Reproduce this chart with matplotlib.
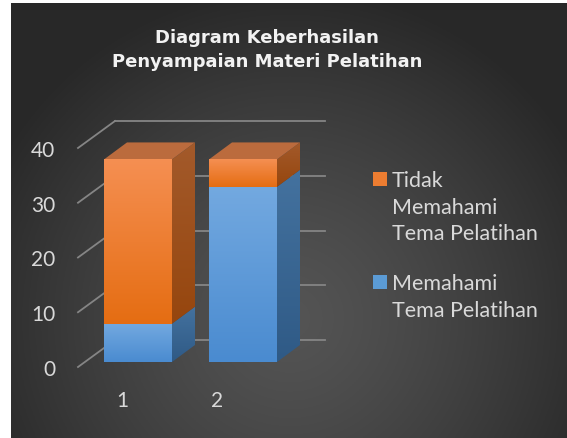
import numpy as np
import matplotlib.pyplot as plt
from matplotlib.patches import Polygon, Rectangle
from matplotlib.transforms import ScaledTranslation

# data
categories = [1, 2]
tick_labels = ["1", "2"]
memahami = [7, 32]
tidak_memahami = [30, 5]
label_tidak = "Tidak\nMemahami\nTema Pelatihan"
label_paham = "Memahami\nTema Pelatihan"
title = "Diagram Keberhasilan\nPenyampaian Materi Pelatihan"
yticks = [0, 10, 20, 30, 40]

W, H = 567, 439
fig = plt.figure(figsize=(W / 100, H / 100), dpi=100)
fig.patch.set_facecolor("white")

# background with radial gradient (pixel coords from top-left)
bx0, by0 = 11, 4
bg = fig.add_axes([bx0 / W, 0, (W - bx0) / W, (H - by0) / H])
xx, yy = np.meshgrid(np.linspace(bx0, W, 300), np.linspace(by0, H, 240))
r = np.sqrt(((xx - 290) / 330) ** 2 + ((yy - 320) / 330) ** 2)
r = np.clip(r, 0, 1)
c = 0.33 - 0.17 * r ** 1.3
bg.imshow(np.dstack([c, c, c]), extent=[0, 1, 0, 1], aspect="auto", origin="upper")
bg.axis("off")

# main axes, laid out in pixels
px_per_cat = 105.0
px_per_val = 5.475
x_ref, y_ref = 138.0, 363.0  # pixel of category 1 / value 0 on the bar plane
ax_l, ax_r, ax_t, ax_b = 62, 340, 100, 385
ax = fig.add_axes([ax_l / W, 1 - ax_b / H, (ax_r - ax_l) / W, (ax_b - ax_t) / H])
xlim = (1 + (ax_l - x_ref) / px_per_cat, 1 + (ax_r - x_ref) / px_per_cat)
ylim = ((y_ref - ax_b) / px_per_val, (y_ref - ax_t) / px_per_val)
ax.patch.set_alpha(0)
for s in ax.spines.values():
    s.set_visible(False)


def dxp(p):
    return p / px_per_cat


def dyp(p):
    return p / px_per_val


# walls: gridlines on back wall + floor-side diagonals
grid_col = "#858585"
back_x0, back_x1 = 1 + dxp(115 - x_ref), 1 + dxp(325 - x_ref)
fx = 1 + dxp(78 - x_ref)
for v in yticks:
    ax.plot([back_x0, back_x1], [v + dyp(22), v + dyp(22)], color=grid_col, lw=1.3, zorder=1)
    ax.plot([fx, back_x0], [v - dyp(5), v + dyp(22)], color=grid_col, lw=1.3, zorder=1)

# 3d bars
bw = 68 / px_per_cat
ddx, ddy = dxp(23), dyp(17)
front_cols = [("#4a8bd0", "#73a9e0"), ("#e56d12", "#f58f52")]
side_cols = [("#2f5a86", "#44729f"), ("#96460e", "#a35a2b")]
top_col = "#bb6b3d"

b1 = ax.bar(categories, memahami, width=bw, color="#5b9bd5", zorder=3, linewidth=0)
b2 = ax.bar(categories, tidak_memahami, bottom=memahami, width=bw, color="#ed7d31", zorder=3, linewidth=0)


def vgrad(lo, hi):
    g = np.linspace(0, 1, 100)[:, None, None]
    c0 = np.array(plt.matplotlib.colors.to_rgb(lo))
    c1 = np.array(plt.matplotlib.colors.to_rgb(hi))
    return c0 * (1 - g) + c1 * g


for k, cont in enumerate([b1, b2]):
    for rect in cont:
        x0, y0 = rect.get_x(), rect.get_y()
        w, h = rect.get_width(), rect.get_height()
        im = ax.imshow(vgrad(*front_cols[k]), extent=[x0, x0 + w, y0, y0 + h], origin="lower",
                       aspect="auto", zorder=3.5)
        im.set_clip_path(rect)
        # right side
        xr = x0 + w
        side = Polygon([(xr, y0), (xr + ddx, y0 + ddy), (xr + ddx, y0 + h + ddy), (xr, y0 + h)],
                       closed=True, facecolor="none", edgecolor="none", zorder=3)
        ax.add_patch(side)
        ims = ax.imshow(vgrad(*side_cols[k]), extent=[xr, xr + ddx, y0, y0 + h + ddy],
                        origin="lower", aspect="auto", zorder=3)
        ims.set_clip_path(side)
        if k == 1:
            yt = y0 + h
            top = Polygon([(x0, yt), (xr, yt), (xr + ddx, yt + ddy), (x0 + ddx, yt + ddy)],
                          closed=True, facecolor=top_col, edgecolor="none", zorder=3)
            ax.add_patch(top)

ax.set_xlim(*xlim)
ax.set_ylim(*ylim)

font = "Lato"
txt_col = "#d9d9d9"
ax.set_yticks(yticks)
ax.set_yticklabels([str(v) for v in yticks], fontsize=15, color=txt_col, family=font)
ax.tick_params(axis="y", length=0, pad=5)
for lab in ax.get_yticklabels():
    lab.set_transform(lab.get_transform() + ScaledTranslation(0, -5 / 100, fig.dpi_scale_trans))
ax.set_xticks(categories)
ax.set_xticklabels(tick_labels, fontsize=15, color=txt_col, family=font)
ax.tick_params(axis="x", length=0, pad=4)
for lab, off in zip(ax.get_xticklabels(), [-16, -26]):
    lab.set_transform(lab.get_transform() + ScaledTranslation(off / 100, 0, fig.dpi_scale_trans))

# title
fig.text(267 / W, 1 - 29 / H, title, ha="center", va="top", fontsize=13, fontweight="bold",
         color="#f2f2f2", family="DejaVu Sans", linespacing=1.45)

# legend drawn by hand
entries = [(label_tidak, "#ed7d31", 173), (label_paham, "#5b9bd5", 276)]
for lab, col, ytop in entries:
    fig.patches.append(Rectangle((373 / W, 1 - (ytop + 14) / H), 14 / W, 14 / H,
                                 transform=fig.transFigure, facecolor=col, edgecolor="none"))
    fig.text(392 / W, 1 - (ytop - 2) / H, lab, ha="left", va="top", fontsize=15.5,
             color=txt_col, family=font, linespacing=1.42)

fig.savefig("out.png", dpi=100)
